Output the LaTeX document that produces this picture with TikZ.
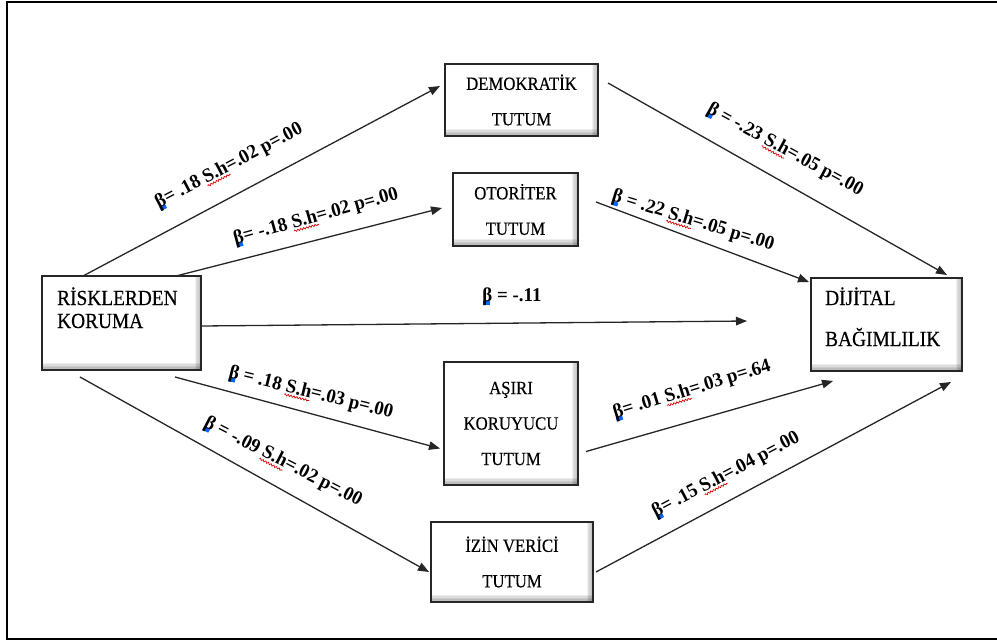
\documentclass[tikz,border=0pt]{standalone}
\usepackage{fontspec}
\setmainfont{Liberation Serif}
\newfontfamily\boxfont[FakeStretch=0.9,FakeBold=0.4]{Liberation Serif}
\newfontfamily\lblfont[FakeStretch=0.97]{Liberation Serif}
\usepackage{xcolor}
\usetikzlibrary{arrows.meta,calc,decorations.pathmorphing}
\newsavebox\wavebox
\newcommand\rwave[1]{\sbox\wavebox{#1}\rlap{\tikz[overlay,baseline=0pt]\draw[red!85!black,line width=0.7pt,decorate,decoration={snake,amplitude=0.9pt,segment length=3pt}] (0pt,-3pt) -- (\wd\wavebox,-3pt);}\usebox\wavebox}
\newcommand\bet{\rlap{\kern1pt\textcolor{blue!60!cyan}{\rule[-3.5pt]{6.5pt}{4pt}}}β}
\tikzset{
  frameline/.style={line width=2pt, black},
  tbox/.style={draw=black!85, line width=2.2pt, fill=white, align=center,
    font=\boxfont\fontsize{18.6}{35.5}\selectfont, inner sep=0pt, outer sep=0pt,
    path picture={
      \foreach \h in {1.5,3,4.5,6,7.5}{
        \fill[black, opacity=0.07]
          (path picture bounding box.south west) rectangle ([yshift=\h pt]path picture bounding box.south east);
      }
      \foreach \w in {1.2,2.4,3.6,4.8,6}{
        \fill[black, opacity=0.06]
          ([xshift=-\w pt]path picture bounding box.south east) rectangle (path picture bounding box.north east);
      }
    }},
  btext/.style={font=\boxfont\fontsize{21.5}{24}\selectfont, inner sep=0pt, anchor=base west},
  conn/.style={line width=1.3pt, black!85, -{Triangle[length=11pt,width=8.5pt]}},
  lbl/.style={font=\lblfont\bfseries\fontsize{19.5}{20}\selectfont, inner sep=0pt},
}
\begin{document}
\begin{tikzpicture}[x=1pt,y=-1pt]
\useasboundingbox (0,0) rectangle (997,641);
\fill[white] (0,0) rectangle (997,641);
\draw[frameline] (1010,1.5) -- (6.5,1.5) -- (6.5,639) -- (1010,639);

% boxes
\node[tbox, minimum width=159, minimum height=94] (rk) at (121.5,323) {};
\node[btext] (rk1) at (57,305) {RİSKLERDEN};
\node[btext] (rk2) at (57,328) {KORUMA};

\node[tbox, minimum width=153, minimum height=72] (dem) at (521.5,100) {DEMOKRATİK\\TUTUM};
\node[tbox, minimum width=125, minimum height=73] (oto) at (515.5,209.5) {OTORİTER\\TUTUM};
\node[tbox, minimum width=134, minimum height=123] (asiri) at (511,423.5) {AŞIRI\\KORUYUCU\\TUTUM};
\node[tbox, minimum width=162, minimum height=80] (izin) at (512,562) {İZİN VERİCİ\\TUTUM};

\node[tbox, minimum width=151, minimum height=93] (dij) at (886.5,324.5) {};
\node[btext] (dij1) at (825,305) {DİJİTAL};
\node[btext] (dij2) at (825,346) {BAĞIMLILIK};

\coordinate (dirend) at (747,321);

% connectors
\draw[conn] ($(rk.north west)+(41,0)$) -- ($(dem.west)+(-5,-14)$);
\draw[conn] ($(rk.north east)+(-25,0)$) -- ($(oto.west)+(-11,-1.5)$);
\draw[conn] ($(rk.east)+(0,3)$) -- (dirend);
\draw[conn] ($(rk.south east)+(-26,7)$) -- ($(asiri.west)+(-4,25)$);
\draw[conn] ($(rk.south west)+(38,7)$) -- ($(izin.west)+(-2,10)$);
\draw[conn] ($(dem.east)+(10,-17)$) -- ($(dij.north east)+(-15,-3)$);
\draw[conn] ($(oto.east)+(18,-7.5)$) -- ($(dij.north west)+(-2,4)$);
\draw[conn] ($(asiri.east)+(8,28)$) -- ($(dij.south west)+(22,10)$);
\draw[conn] ($(izin.east)+(3,10)$) -- ($(dij.south east)+(-11,11)$);

% labels
\node[lbl, rotate=27.7] (l1) at (229,166) {\bet= .18 \rwave{S.h}=.02 p=.00};
\node[lbl, rotate=15.5] (l2) at (316,217) {\bet= -.18 \rwave{S.h}=.02 p=.00};
\node[lbl] (l3) at (512,297) {\bet{} = -.11};
\node[lbl, rotate=-13.9] (l4) at (311,393) {\bet{} = .18 \rwave{S.h}=.03 p=.00};
\node[lbl, rotate=-27.3] (l5) at (283,462) {\bet{} = -.09 \rwave{S.h}=.02 p=.00};
\node[lbl, rotate=-28.6] (l6) at (785,150) {\bet{} = -.23 \rwave{S.h}=.05 p=.00};
\node[lbl, rotate=-17] (l7) at (693,221) {\bet{} = .22 \rwave{S.h}=.05 p=.00};
\node[lbl, rotate=16.9] (l8) at (692,390) {\bet= .01 \rwave{S.h}=.03 p=.64};
\node[lbl, rotate=27.8] (l9) at (726,475) {\bet= .15 \rwave{S.h}=.04 p=.00};
\end{tikzpicture}
\end{document}
